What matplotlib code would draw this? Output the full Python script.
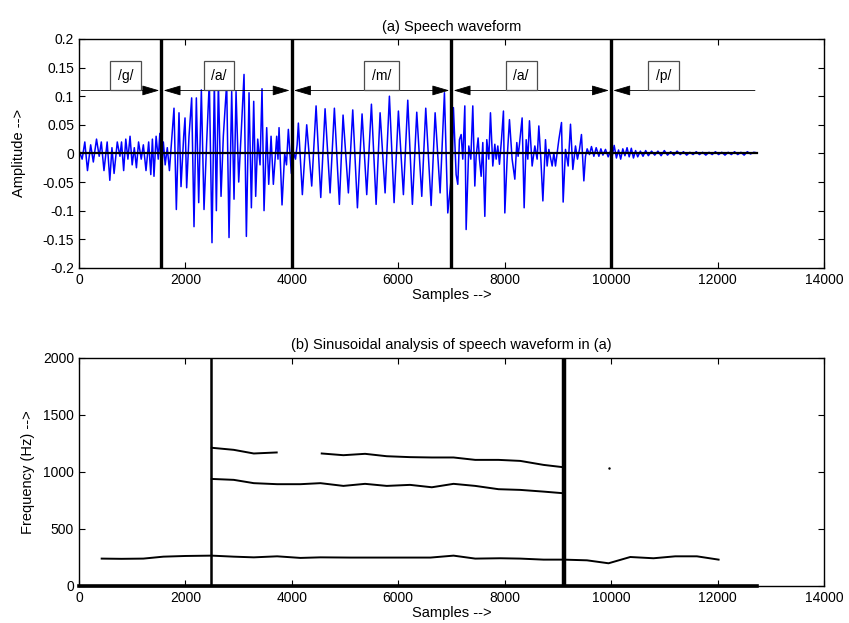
import numpy as np
import matplotlib
matplotlib.use("Agg")
import matplotlib.pyplot as plt

plt.rcParams['font.family'] = ['Liberation Sans', 'DejaVu Sans']

# ---- (a) speech waveform, local extrema ----
g_n = [0, 60, 110, 160, 220, 270, 330, 380, 420, 470, 530, 580, 620, 660, 720,
       770, 800, 840, 880, 920, 960, 1000, 1040, 1080, 1120, 1170, 1210, 1260,
       1310, 1350, 1380, 1410, 1450, 1490, 1520]
g_amp = [0.005, -0.01, 0.02, -0.03, 0.015, -0.015, 0.025, -0.005, 0.02, -0.03,
         0.02, -0.047, 0.01, -0.035, 0.02, -0.005, 0.02, -0.03, 0.025, -0.01,
         0.03, -0.02, 0.01, -0.025, 0.02, -0.01, 0.015, -0.03, 0.02, -0.037,
         0.025, -0.04, 0.03, -0.01, 0.035]

a1_n = [1550, 1586, 1620, 1660, 1700, 1740, 1786, 1830, 1880, 1918, 1968, 1993,
        2024, 2068, 2118, 2162, 2206, 2250, 2300, 2350, 2400, 2450, 2500, 2544,
        2582, 2620, 2670, 2713, 2776, 2820, 2870, 2914, 2952, 3002, 3052, 3102,
        3146, 3196, 3240, 3284, 3321, 3359, 3403, 3440, 3478, 3528, 3566, 3610,
        3653, 3716, 3740, 3760, 3816, 3866, 3900, 3935, 3991]
a1_amp = [-0.04, 0.02, -0.02, 0.01, -0.03, 0.02, 0.079, -0.098, 0.071, -0.058,
          0.03, 0.062, -0.06, 0.03, 0.097, -0.128, 0.097, -0.086, 0.111, -0.098,
          0.02, 0.126, -0.156, 0.126, -0.1, 0.123, -0.075, 0.03, 0.123, -0.147,
          0.108, -0.08, 0.108, -0.05, 0.042, 0.138, -0.145, 0.106, -0.095, 0.091,
          -0.075, 0.025, -0.02, 0.113, -0.1, 0.045, -0.054, 0.03, -0.054, 0.03,
          -0.01, 0.045, -0.09, 0.0, -0.02, 0.042, -0.035]

m_n = [4040, 4070, 4100, 4123, 4198, 4280, 4374, 4456, 4544, 4625, 4719, 4800,
       4894, 4963, 5063, 5145, 5233, 5320, 5408, 5496, 5584, 5659, 5753, 5834,
       5922, 6003, 6097, 6179, 6266, 6348, 6442, 6517, 6618, 6693, 6787, 6868,
       6931]
m_amp = [0.0, -0.01, 0.015, 0.053, -0.072, 0.05, -0.057, 0.083, -0.077, 0.078,
         -0.069, 0.079, -0.089, 0.067, -0.069, 0.076, -0.095, 0.069, -0.072,
         0.086, -0.089, 0.071, -0.069, 0.1, -0.086, 0.074, -0.072, 0.093, -0.089,
         0.072, -0.075, 0.079, -0.091, 0.071, -0.069, 0.106, -0.104]

a2_n = [7012, 7037, 7088, 7119, 7150, 7182, 7213, 7251, 7276, 7326, 7364, 7401,
        7439, 7464, 7501, 7526, 7558, 7589, 7627, 7664, 7702, 7733, 7777, 7815,
        7840, 7871, 7902, 7940, 7977, 8003, 8046, 8090, 8140, 8191, 8228, 8253,
        8278, 8328, 8366, 8404, 8435, 8466, 8516, 8567, 8610, 8642, 8680, 8718,
        8767, 8798, 8830, 8892, 8924, 8955, 9018, 9068, 9099, 9143, 9193, 9237,
        9281, 9331, 9368, 9406, 9443, 9488, 9519, 9550, 9594, 9631, 9676, 9720,
        9770, 9808, 9846, 9895, 9945, 9988]
a2_amp = [-0.028, 0.08, -0.037, -0.054, 0.024, 0.033, -0.01, 0.083, -0.133,
          0.013, -0.01, 0.083, -0.057, -0.005, 0.027, -0.01, -0.04, 0.019, -0.11,
          0.024, -0.01, 0.071, -0.022, 0.016, -0.01, 0.013, -0.019, 0.024, 0.074,
          -0.104, -0.01, 0.059, -0.01, -0.045, 0.019, -0.005, 0.016, 0.062, -0.095,
          0.024, -0.01, 0.057, -0.022, 0.013, -0.01, 0.048, -0.01, -0.083, 0.024,
          -0.022, 0.007, -0.022, 0.001, -0.022, 0.024, 0.054, -0.085, 0.007,
          -0.022, 0.051, -0.028, 0.013, -0.01, 0.007, 0.033, -0.048, -0.005, 0.008,
          -0.002, 0.012, -0.005, 0.01, -0.005, 0.008, -0.003, 0.007, -0.006, 0.004]

p_n = [10020, 10058, 10100, 10140, 10180, 10220, 10260, 10300, 10340, 10380,
       10420, 10460, 10500, 10550, 10600, 10650, 10700, 10760, 10820, 10880,
       10940, 11000, 11060, 11120, 11180, 11240, 11300, 11360, 11420, 11480,
       11540, 11600, 11660, 11720, 11780, 11840, 11900, 11960, 12020, 12080,
       12140, 12200, 12260, 12320, 12380, 12440, 12500, 12560, 12620, 12680, 12744]
p_amp = [-0.005, 0.014, -0.008, 0.006, -0.01, 0.008, -0.004, 0.01, -0.006, 0.009,
         -0.008, 0.005, -0.006, 0.004, -0.005, 0.005, -0.004, 0.004, -0.003, 0.004,
         -0.004, 0.005, -0.003, 0.003, -0.003, 0.004, -0.002, 0.003, -0.003, 0.002,
         -0.002, 0.003, -0.002, 0.002, -0.003, 0.002, -0.002, 0.003, -0.002, 0.002,
         -0.003, 0.002, -0.002, 0.003, -0.002, 0.002, -0.003, 0.003, -0.001, 0.002,
         0.001]

# segment boundaries and labels
bounds = [1550, 4000, 7000, 10000]
sig_end = 12744
phonemes = ['/g/', '/a/', '/m/', '/a/', '/p/']
label_pos = [870, 2630, 5680, 8310, 10980]

# ---- (b) sinusoidal tracks ----
trk1_n = [427, 800, 1210, 1586, 2000, 2495, 2909, 3285, 3724, 4162, 4538, 5102,
          6606, 7039, 7447, 7917, 8293, 8731, 9107, 9546, 9952, 10360, 10797,
          11205, 11613, 12020]
trk1_hz = [240, 238, 240, 257, 263, 266, 257, 251, 260, 246, 251, 249, 249, 266,
           240, 243, 240, 231, 231, 225, 199, 254, 243, 260, 260, 231]
trk2_n = [2495, 2909, 3285, 3724, 4162, 4538, 4969, 5377, 5784, 6222, 6631, 7039,
          7447, 7885, 8293, 8731, 9095]
trk2_hz = [938, 930, 901, 892, 892, 901, 877, 895, 877, 886, 865, 895, 877, 848,
           842, 827, 813]
trk3a_n = [2495, 2909, 3285, 3716]
trk3a_hz = [1211, 1193, 1161, 1170]
trk3b_n = [4562, 4969, 5377, 5784, 6222, 6631, 7039, 7447, 7885, 8293, 8731, 9095]
trk3b_hz = [1161, 1146, 1158, 1137, 1129, 1126, 1126, 1105, 1105, 1096, 1061, 1041]
dot_n, dot_hz = [9952], [1038]
marks_b = [2490, 9110]

wave_n = g_n + a1_n + m_n + a2_n + p_n
wave_amp = g_amp + a1_amp + m_amp + a2_amp + p_amp

fig = plt.figure(figsize=(8.49, 6.23), dpi=100)
ax1 = fig.add_axes([0.093, 0.570, 0.8775, 0.3675])
ax2 = fig.add_axes([0.093, 0.0594, 0.8775, 0.3664])

for ax in (ax1, ax2):
    ax.tick_params(direction='in', top=True, right=True, length=4, labelsize=10)
    for s in ax.spines.values():
        s.set_linewidth(1.0)
    ax.set_xlim(0, 14000)
    ax.set_xticks(range(0, 14001, 2000))

ax1.plot(wave_n, wave_amp, color='blue', lw=1.1)
ax1.plot([0, sig_end], [0, 0], color='k', lw=1.6)
for b in bounds:
    ax1.axvline(b, color='k', lw=2.4)

edges = [0] + bounds + [sig_end]
arrow_y = 0.11
for i, (lab, xp) in enumerate(zip(phonemes, label_pos)):
    x0, x1 = edges[i], edges[i + 1]
    if i == 0:
        style = '-|>,head_length=1.2,head_width=0.35'
    elif i == len(phonemes) - 1:
        style = '<|-,head_length=1.2,head_width=0.35'
    else:
        style = '<|-|>,head_length=1.2,head_width=0.35'
    ax1.annotate('', xy=(x1 - 40, arrow_y), xytext=(x0 + 40, arrow_y),
                 arrowprops=dict(arrowstyle=style, color='k', lw=0.6,
                                 mutation_scale=9, shrinkA=0, shrinkB=0))
    ax1.text(xp, arrow_y + 0.026, lab, ha='center', va='center', fontsize=10,
             bbox=dict(boxstyle='square,pad=0.55', fc='white', ec='0.3', lw=0.9))

ax1.set_ylim(-0.2, 0.2)
yt = [-0.2, -0.15, -0.1, -0.05, 0, 0.05, 0.1, 0.15, 0.2]
ax1.set_yticks(yt)
ax1.set_yticklabels(['-0.2', '-0.15', '-0.1', '-0.05', '0', '0.05', '0.1', '0.15', '0.2'])
ax1.set_title('(a) Speech waveform', fontsize=10.5, pad=6)
ax1.set_xlabel('Samples -->', fontsize=10.5, labelpad=1)
ax1.set_ylabel('Amplitude -->', fontsize=10.5, labelpad=12)

ax2.plot(trk1_n, trk1_hz, color='k', lw=1.4)
ax2.plot(trk2_n, trk2_hz, color='k', lw=1.4)
ax2.plot(trk3a_n, trk3a_hz, color='k', lw=1.4)
ax2.plot(trk3b_n, trk3b_hz, color='k', lw=1.4)
ax2.plot(dot_n, dot_hz, 'k.', ms=1.5)
ax2.plot([0, sig_end], [0, 0], color='k', lw=2.6, clip_on=False)
ax2.axvline(marks_b[0], color='k', lw=1.8)
ax2.axvline(marks_b[1], color='k', lw=3.2)
ax2.set_ylim(0, 2000)
ax2.set_yticks(range(0, 2001, 500))
ax2.set_title('(b) Sinusoidal analysis of speech waveform in (a)', fontsize=10.5, pad=6)
ax2.set_xlabel('Samples -->', fontsize=10.5, labelpad=1)
ax2.set_ylabel('Frequency (Hz) -->', fontsize=10.5, labelpad=6)

fig.savefig('out.png', dpi=100)
